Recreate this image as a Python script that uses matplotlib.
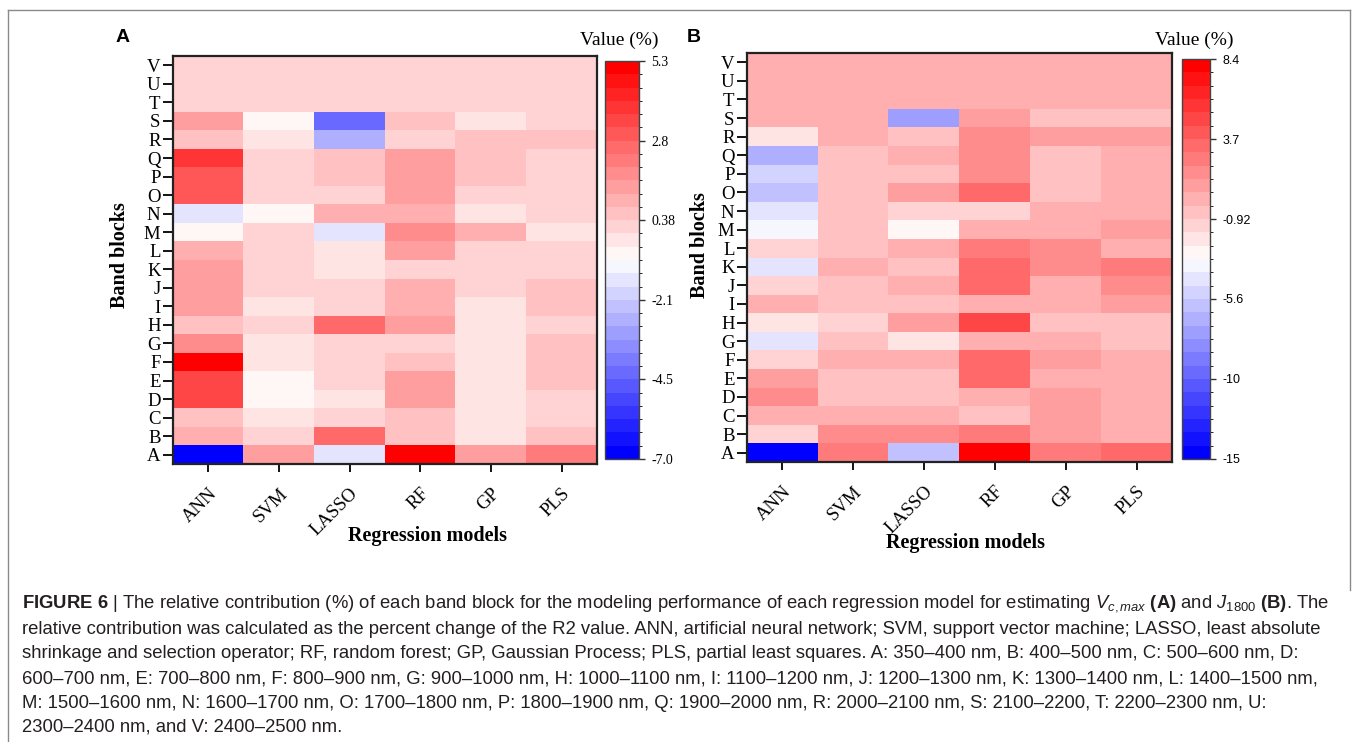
import numpy as np
import matplotlib
matplotlib.use("Agg")
import matplotlib.pyplot as plt
from matplotlib.colors import BoundaryNorm
from matplotlib.lines import Line2D
from matplotlib.transforms import ScaledTranslation

# ---------------- data ----------------
models = ["ANN", "SVM", "LASSO", "RF", "GP", "PLS"]
bands = ["A", "B", "C", "D", "E", "F", "G", "H", "I", "J", "K",
         "L", "M", "N", "O", "P", "Q", "R", "S", "T", "U", "V"]

# rows: band blocks A..V ; columns: ANN, SVM, LASSO, RF, GP, PLS
vcmax_values = [
    [-6.9, 1.4, -1.5, 5.2, 1.4, 2.2],   # A
    [1.2, 0.2, 2.6, 0.6, -0.2, 0.6],    # B
    [0.6, -0.2, 0.2, 0.6, -0.2, 0.1],   # C
    [3.4, -0.6, -0.2, 1.3, -0.2, 0.2],  # D
    [3.4, -0.6, 0.2, 1.3, -0.2, 0.6],   # E
    [5.2, -0.2, 0.2, 0.6, -0.2, 0.6],   # F
    [1.8, -0.2, 0.2, 0.2, -0.2, 0.6],   # G
    [0.6, 0.2, 2.6, 1.3, -0.2, 0.2],    # H
    [1.3, -0.2, 0.2, 1.0, -0.2, 0.7],   # I
    [1.3, 0.2, 0.2, 1.0, 0.2, 0.7],     # J
    [1.3, 0.2, -0.2, 0.2, 0.2, 0.2],    # K
    [1.2, 0.2, -0.2, 1.4, 0.2, 0.2],    # L
    [-0.6, 0.2, -1.5, 1.8, 1.1, -0.2],  # M
    [-1.5, -0.6, 1.0, 1.0, -0.2, 0.2],  # N
    [2.9, 0.2, 0.2, 1.3, 0.2, 0.2],     # O
    [3.1, 0.2, 0.6, 1.3, 0.6, 0.2],     # P
    [3.9, 0.2, 0.6, 1.3, 0.6, 0.2],     # Q
    [0.6, -0.2, -2.7, 0.2, 0.6, 0.6],   # R
    [1.3, -0.6, -4.3, 0.6, -0.2, 0.2],  # S
    [0.2, 0.2, 0.2, 0.2, 0.2, 0.2],     # T
    [0.2, 0.2, 0.2, 0.2, 0.2, 0.2],     # U
    [0.2, 0.2, 0.2, 0.2, 0.2, 0.2],     # V
]

j1800_values = [
    [-14.9, 2.5, -6.0, 8.2, 2.5, 3.2],  # A
    [-1.3, 1.8, 1.8, 2.4, 1.0, 0.2],    # B
    [0.5, 0.4, 0.4, -0.5, 0.8, 0.2],    # C
    [1.8, -0.6, -0.6, 0.3, 1.0, 0.2],   # D
    [1.0, -0.6, -0.6, 3.3, 0.5, 0.2],   # E
    [-1.3, 0.2, 0.2, 3.3, 1.0, 0.2],    # F
    [-4.5, -0.4, -2.1, 0.4, 0.4, -0.5], # G
    [-2.1, -1.3, 0.6, 4.9, -0.5, -0.5], # H
    [0.2, -0.5, -0.5, 0.3, 0.3, 1.0],   # I
    [-1.3, -0.5, 0.4, 3.3, 0.3, 1.8],   # J
    [-4.5, 0.3, -0.5, 3.3, 1.9, 2.4],   # K
    [-1.3, -0.5, 0.3, 2.6, 1.7, 0.4],   # L
    [-3.7, -0.5, -2.9, 0.3, 0.3, 1.0],  # M
    [-4.5, -0.5, -1.3, -1.3, 0.3, 0.3], # N
    [-6.0, -0.5, 0.6, 3.3, -0.5, 0.3],  # O
    [-5.3, -0.5, -0.5, 1.4, -0.5, 0.3], # P
    [-6.8, -0.5, 0.4, 1.8, -0.5, 0.4],  # Q
    [-2.1, 0.2, -0.5, 1.8, 1.0, 1.2],   # R
    [0.2, 0.2, -7.6, 1.0, -0.5, -0.5],  # S
    [0.2, 0.2, 0.2, 0.2, 0.2, 0.2],     # T
    [0.2, 0.2, 0.2, 0.2, 0.2, 0.2],     # U
    [0.2, 0.2, 0.2, 0.2, 0.2, 0.2],     # V
]

vcmax_range = (-7.0, 5.3)
j1800_range = (-15.0, 8.4)
vcmax_cbar_labels = ["-7.0", "-4.5", "-2.1", "0.38", "2.8", "5.3"]
j1800_cbar_labels = ["-15", "-10", "-5.6", "-0.92", "3.7", "8.4"]
n_levels = 30

caption_lines = [
    r"$\mathbf{FIGURE\ 6}$ | The relative contribution (%) of each band block for the modeling performance of each regression model for estimating $V_{c,max}$ $\mathbf{(A)}$ and $J_{1800}$ $\mathbf{(B)}$. The",
    "relative contribution was calculated as the percent change of the R2 value. ANN, artificial neural network; SVM, support vector machine; LASSO, least absolute",
    "shrinkage and selection operator; RF, random forest; GP, Gaussian Process; PLS, partial least squares. A: 350\u2013400 nm, B: 400\u2013500 nm, C: 500\u2013600 nm, D:",
    "600\u2013700 nm, E: 700\u2013800 nm, F: 800\u2013900 nm, G: 900\u20131000 nm, H: 1000\u20131100 nm, I: 1100\u20131200 nm, J: 1200\u20131300 nm, K: 1300\u20131400 nm, L: 1400\u20131500 nm,",
    "M: 1500\u20131600 nm, N: 1600\u20131700 nm, O: 1700\u20131800 nm, P: 1800\u20131900 nm, Q: 1900\u20132000 nm, R: 2000\u20132100 nm, S: 2100\u20132200, T: 2200\u20132300 nm, U:",
    "2300\u20132400 nm, and V: 2400\u20132500 nm.",
]

# ---------------- style ----------------
SERIF = ["Liberation Serif", "DejaVu Serif"]
SANS = ["Liberation Sans", "DejaVu Sans"]
plt.rcParams["mathtext.fontset"] = "custom"
plt.rcParams["mathtext.rm"] = "Liberation Sans"
plt.rcParams["mathtext.it"] = "Liberation Sans:italic"
plt.rcParams["mathtext.bf"] = "Liberation Sans:bold"

W, H = 1358, 742
fig = plt.figure(figsize=(W / 100, H / 100), dpi=100)


def box(x0, y0, x1, y1):
    return [x0 / W, 1 - y1 / H, (x1 - x0) / W, (y1 - y0) / H]


def fx(x):
    return x / W


def fy(y):
    return 1 - y / H


def panel(data, vrange, cbar_labels, ax_px, cb_px, cb_family, cb_size):
    ax = fig.add_axes(box(*ax_px))
    bounds = np.linspace(vrange[0], vrange[1], n_levels + 1)
    cmap = plt.get_cmap("bwr", n_levels)
    norm = BoundaryNorm(bounds, n_levels)
    im = ax.imshow(np.array(data), cmap=cmap, norm=norm, origin="lower",
                   aspect="auto", interpolation="nearest")
    ax.set_xticks(range(len(models)))
    ax.set_xticklabels(models, rotation=45, ha="right", va="top",
                       family=SERIF, fontsize=13.5)
    ax.set_yticks(range(len(bands)))
    ax.set_yticklabels(bands, family=SERIF, fontsize=13.5)
    ax.tick_params(axis="y", length=7, width=1.3, pad=2, direction="out")
    ax.tick_params(axis="x", length=6, width=1.3, pad=9, direction="out")
    for lbl in ax.get_xticklabels():
        lbl.set_transform(lbl.get_transform() +
                          ScaledTranslation(0.12, 0, fig.dpi_scale_trans))
    for s in ax.spines.values():
        s.set_linewidth(1.6)
        s.set_color("#222222")

    cax = fig.add_axes(box(*cb_px))
    cb = fig.colorbar(im, cax=cax, ticks=np.linspace(vrange[0], vrange[1], 6))
    cb.ax.set_yticklabels(cbar_labels, family=cb_family, fontsize=cb_size)
    cb.ax.tick_params(length=4, width=1.0, pad=5, color="#333333")
    cb.outline.set_linewidth(1.0)
    cb.outline.set_edgecolor("#444444")
    return ax


panel(vcmax_values, vcmax_range, vcmax_cbar_labels,
      (173, 56, 597, 464), (605, 61, 639, 459), SERIF, 10)
panel(j1800_values, j1800_range, j1800_cbar_labels,
      (747, 53, 1172, 462), (1182, 59, 1210, 459), SANS, 9)

# panel letters and labels
fig.text(fx(123), fy(38), "A", family=SANS, fontweight="bold", fontsize=14,
         ha="center", va="center")
fig.text(fx(694), fy(38), "B", family=SANS, fontweight="bold", fontsize=14,
         ha="center", va="center")
fig.text(fx(619), fy(40), "Value (%)", family=SERIF, fontsize=14,
         ha="center", va="center")
fig.text(fx(1194), fy(40), "Value (%)", family=SERIF, fontsize=14,
         ha="center", va="center")
fig.text(fx(428), fy(536), "Regression models", family=SERIF,
         fontweight="bold", fontsize=14.5, ha="center", va="center")
fig.text(fx(966), fy(543), "Regression models", family=SERIF,
         fontweight="bold", fontsize=14.5, ha="center", va="center")
fig.text(fx(120), fy(255), "Band blocks", family=SERIF, fontweight="bold",
         fontsize=14.5, ha="center", va="center", rotation=90)
fig.text(fx(700), fy(245), "Band blocks", family=SERIF, fontweight="bold",
         fontsize=14.5, ha="center", va="center", rotation=90)

# outer frame
frame_c = "#8a8a8a"
fig.add_artist(Line2D([fx(8), fx(8)], [fy(10), fy(742)], color=frame_c, lw=1.0))
fig.add_artist(Line2D([fx(8), fx(1350)], [fy(10), fy(10)], color=frame_c, lw=1.0))
fig.add_artist(Line2D([fx(1350), fx(1350)], [fy(10), fy(590)], color=frame_c, lw=1.0))

# caption
line_y = [604, 629, 654, 679, 703, 727]
texts = []
for s, y in zip(caption_lines, line_y):
    t = fig.text(fx(22), fy(y), s, family=SANS, fontsize=11.5,
                 ha="left", va="center", color="#231f20")
    texts.append(t)
fig.canvas.draw()
r = fig.canvas.get_renderer()
w = texts[0].get_window_extent(renderer=r).width
scale = 1313.0 / w
for t in texts:
    t.set_fontsize(11.5 * scale)

fig.savefig("out.png", dpi=100)
